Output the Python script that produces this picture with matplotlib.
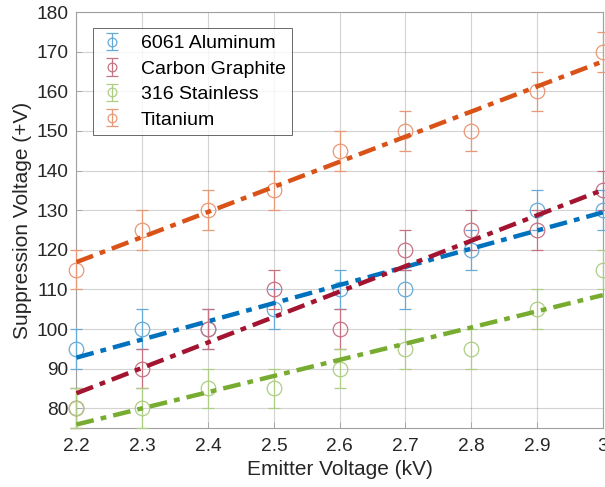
import numpy as np
import matplotlib
matplotlib.use("Agg")
import matplotlib.pyplot as plt
from matplotlib.colors import to_rgb
from matplotlib.legend_handler import HandlerErrorbar

plt.rcParams['font.family'] = ['Liberation Sans', 'DejaVu Sans']

emitter_kv = [2.2, 2.3, 2.4, 2.5, 2.6, 2.7, 2.8, 2.9, 3.0]
aluminum = [95, 100, 100, 105, 110, 110, 120, 130, 130]
graphite = [80, 90, 100, 110, 100, 120, 125, 125, 135]
stainless = [80, 80, 85, 85, 90, 95, 95, 105, 115]
titanium = [115, 125, 130, 135, 145, 150, 150, 160, 170]
err = [5, 5, 5, 5, 5, 5, 5, 5, 5]

names = ["6061 Aluminum", "Carbon Graphite", "316 Stainless", "Titanium"]
series = [aluminum, graphite, stainless, titanium]
line_colors = ["#0072BD", "#A2142F", "#77AC30", "#D95319"]


def lighten(c, a=0.6):
    r = np.array(to_rgb(c))
    return tuple(a * r + (1 - a) * np.ones(3))


fig = plt.figure(figsize=(6.05, 4.87), dpi=100)
ax = fig.add_axes([0.1264, 0.1211, 0.870, 0.854])

x = np.array(emitter_kv)
handles = []
for name, ys, c in zip(names, series, line_colors):
    lc = lighten(c)
    h = ax.errorbar(x, ys, yerr=err, fmt='o', mfc='none', mec=lc, ms=10.5, mew=0.9,
                    ecolor=lc, elinewidth=0.9, capsize=4, capthick=0.9,
                    label=name, clip_on=False, zorder=3)
    handles.append(h)

for ys, c in zip(series, line_colors):
    p = np.polyfit(x, ys, 1)
    xx = np.array([2.2, 3.0])
    ax.plot(xx, np.polyval(p, xx), color=c, lw=3.2, ls=(0, (4, 1.6, 1.3, 1.6)), zorder=4)

ax.set_xlim(2.2, 3.0)
ax.set_ylim(75, 180)
ax.set_xticks(emitter_kv)
ax.set_xticklabels(['2.2', '2.3', '2.4', '2.5', '2.6', '2.7', '2.8', '2.9', '3'])
ax.set_yticks(np.arange(80, 181, 10))
ax.grid(True, color='#262626', alpha=0.2, lw=0.8)
ax.set_axisbelow(True)
for s in ax.spines.values():
    s.set_color('#a0a0a0')
    s.set_linewidth(0.8)
ax.tick_params(axis='both', labelsize=13.8, colors='#a0a0a0', labelcolor='#262626',
               direction='in', length=4, width=0.6)
ax.tick_params(axis='x', pad=7)
ax.tick_params(axis='y', pad=6)
ax.set_xlabel("Emitter Voltage (kV)", fontsize=15, color='#262626', labelpad=4)
ax.set_ylabel("Suppression Voltage (+V)", fontsize=15, color='#262626', labelpad=3)

leg = ax.legend(handles=handles, labels=names, loc='upper left',
                bbox_to_anchor=(0.0314, 0.962), borderaxespad=0, fontsize=14,
                frameon=True, fancybox=False, edgecolor='#262626', markerscale=0.6,
                handler_map={type(handles[0]): HandlerErrorbar(yerr_size=0.45)},
                handlelength=1.3, handletextpad=0.8, borderpad=0.35, labelspacing=0.4)
leg.get_frame().set_linewidth(0.6)

fig.savefig("out.png", dpi=100)
